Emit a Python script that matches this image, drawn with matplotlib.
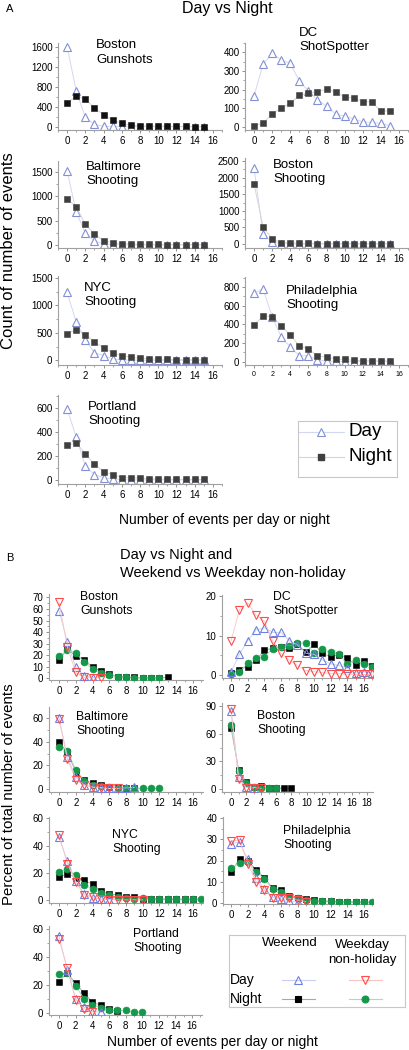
import matplotlib
matplotlib.use("Agg")
import matplotlib.pyplot as plt
from matplotlib.ticker import MultipleLocator

W, H = 409, 1050
plt.rcParams['font.family'] = ['Liberation Sans', 'DejaVu Sans']

# ---------------- Panel A data: counts, Day vs Night ----------------
a_x = [0, 1, 2, 3, 4, 5, 6, 7, 8, 9, 10, 11, 12, 13, 14, 15]
bos_gun_day = [1610, 726, 190, 50, 8, 5, 2, 1, 1, 1, 1, 1, 1, 1, 1, 1]
bos_gun_night = [470, 620, 550, 385, 235, 135, 65, 30, 20, 15, 10, 8, 5, 5, 3, 3]
dc_day = [166, 337, 395, 359, 341, 246, 193, 145, 112, 70, 59, 43, 28, 25, 20, 7]
dc_night = [7, 20, 70, 102, 127, 171, 180, 189, 202, 189, 159, 157, 136, 134, 86, 86]
balt_day = [1520, 680, 240, 80, 20, 5, 3, 2, 1, 1, 1, 1, 1, 1, 1, 1]
balt_night = [945, 780, 430, 225, 88, 47, 30, 20, 15, 12, 10, 8, 8, 5, 5, 5]
bos_sh_day = [2280, 290, 50, 10, 5, 3, 2, 1, 1, 1, 1, 1, 1, 1, 1, 1]
bos_sh_night = [1800, 520, 150, 40, 38, 18, 18, 15, 15, 15, 15, 15, 15, 15, 15, 15]
nyc_day = [1240, 700, 380, 140, 90, 30, 10, 8, 5, 3, 3, 2, 2, 2, 2, 2]
nyc_night = [490, 560, 470, 340, 230, 140, 90, 60, 40, 30, 25, 20, 15, 15, 12, 10]
phil_day = [733, 780, 480, 268, 157, 64, 64, 18, 5, 3, 2, 1, 1, 1, 1, 1]
phil_night = [393, 493, 482, 386, 286, 171, 136, 64, 50, 30, 25, 15, 12, 10, 10, 8]
port_day = [590, 360, 115, 45, 20, 8, 3, 2, 1, 1, 1, 1, 1, 1, 1, 1]
port_night = [290, 310, 220, 130, 70, 45, 20, 20, 15, 10, 8, 6, 5, 5, 5, 5]

# ---------------- Panel B data: percent, weekend/weekday x day/night ----------------
bg_we_day = [58.5, 31, 9.5, 2.3, 0.5]
bg_wd_day = [66, 27, 5, 1, 0.3, 0.3]
bg_we_night = [16, 25, 19.5, 16, 9.5, 6.5, 3.7, 1.5, 1, 0.8, 0.5, 0.5, 0.5, 1]
bg_wd_night = [19, 24.5, 22, 14, 8, 4.5, 2.5, 1.5, 1, 0.5, 0.5, 0.5, 0.5]

dc_we_day = [0.8, 5.2, 8.7, 11.4, 12.0, 10.8, 10.8, 8.7, 7.6, 5.5, 5.2, 3.8, 2.8, 2.4, 1.7, 0.4, 0.8, 0.4]
dc_wd_day = [8.7, 16.5, 18.3, 15.2, 13.7, 8.7, 5.5, 3.8, 2.4, 1.1, 0.8, 0.6, 0.3, 0.3, 0.2, 0.1, 0.1, 0.1]
dc_we_night = [0.4, 1.3, 2.1, 3.8, 6.2, 6.8, 7.2, 6.9, 7.8, 5.7, 7.8, 5.5, 4.6, 5.1, 4.4, 2.4, 3.4, 2.3]
dc_wd_night = [0.3, 0.6, 3.1, 4.2, 4.6, 6.6, 7.2, 7.4, 8.0, 8.2, 5.5, 6.5, 5.7, 5.2, 2.7, 3.8, 2.7, 2.1]

balt_we_day = [60, 27, 10, 3.7, 1.5, 1, 0.5, 0.5, 1, 1.4]
balt_wd_day = [59.5, 25, 8, 3, 1.7, 1, 0.5, 0.5]
balt_we_night = [39.5, 31, 14.4, 8, 5, 3, 2, 1.5, 1, 0.8]
balt_wd_night = [35.5, 32, 16.3, 7, 3.7, 2.5, 1.5, 1, 1, 0.8, 0.5, 0.5, 0.5]

bsh_we_day = [84.6, 13.6, 2, 1]
bsh_wd_day = [86, 10.8, 1.8, 1.8, 1]
bsh_we_night = [66, 21, 7.5, 2.2, 3.6, 1, 1, 1, 1]
bsh_wd_night = [69, 20, 6.5, 2, 1.5, 1, 1]

nyc_we_day = [46.3, 28.5, 14, 4.9, 2, 0.7, 0.5]
nyc_wd_day = [47.5, 26.8, 13.4, 4, 2.4, 0.7, 0.5, 0.3, 0.3, 0.3, 0.3]
nyc_we_night = [17, 19.5, 16.6, 14.6, 11.7, 6.8, 4.4, 4.1, 2.4, 2.4, 1.2, 1, 1, 0.8, 0.8, 0.8, 0.8]
nyc_wd_night = [20.7, 23, 18.3, 11.5, 8, 5.6, 3.7, 2.4, 2, 1.2, 1.7, 1, 1, 0.8, 0.8, 0.8, 0.8, 0.8]

phil_we_day = [28, 28.8, 20.5, 11.7, 6.4, 2.7, 1.6, 1, 0.5]
phil_wd_day = [29.3, 29.6, 18.4, 9.9, 5.9, 2.4, 2.4, 2.1, 1.3, 0.5]
phil_we_night = [14.4, 20.8, 19.7, 15.7, 11.7, 6.9, 5.9, 3.2, 2.4, 1.6, 1.2, 0.8, 0.8, 0.5, 0.4, 0.3, 0.3]
phil_wd_night = [16.5, 18.7, 19.5, 14.4, 11.2, 6.4, 5.1, 2.9, 2.1, 1.3, 1.0, 0.7, 0.6, 0.5, 0.4, 0.3, 0.3, 0.3]

port_we_day = [55, 30.7, 10.3, 4.3, 1, 0.7]
port_wd_day = [52.8, 31.9, 9.6, 3.1, 0.7]
port_we_night = [22.3, 28.8, 21.1, 14.4, 7.9, 5.5, 2.6, 1.5]
port_wd_night = [27.8, 28.3, 19.4, 10.3, 5.5, 3.8, 1.9, 1.9, 1.9, 0.7, 0.7]

# colours
A_DAY, A_DAY_LINE = '#8390d4', '#d3d8f2'
A_NIGHT, A_NIGHT_LINE = '#3f3f3f', '#d6d6d6'
B_WE_DAY, B_WE_DAY_LINE = '#6f80e0', '#c9cff3'
B_WD_DAY, B_WD_DAY_LINE = '#ff4a4a', '#f9c4c4'
B_WE_NIGHT, B_WE_NIGHT_LINE = '#000000', '#a8a8a8'
B_WD_NIGHT, B_WD_NIGHT_LINE = '#14984a', '#a9dcb9'

fig = plt.figure(figsize=(W / 100, H / 100), dpi=100)


def px_axes(l, t, r, b):
    return fig.add_axes([l / W, 1 - b / H, (r - l) / W, (b - t) / H])


def px_text(x, y, s, **kw):
    fig.text(x / W, 1 - y / H, s, **kw)


def style(ax, xlim, ylim, xstep, ystep, xfs=7, yfs=7):
    ax.set_xlim(*xlim)
    ax.set_ylim(*ylim)
    ax.xaxis.set_major_locator(MultipleLocator(xstep))
    ax.xaxis.set_minor_locator(MultipleLocator(xstep / 2))
    ax.yaxis.set_major_locator(MultipleLocator(ystep))
    ax.yaxis.set_minor_locator(MultipleLocator(ystep / 2))
    for s in ['top', 'right']:
        ax.spines[s].set_visible(False)
    for s in ['left', 'bottom']:
        ax.spines[s].set_color('#a0a0a0')
        ax.spines[s].set_linewidth(0.8)
    ax.tick_params(which='major', length=2.5, width=0.6, color='#808080', pad=1.5)
    ax.tick_params(axis='x', labelsize=xfs)
    ax.tick_params(axis='y', labelsize=yfs)
    ax.tick_params(which='minor', length=1.3, width=0.5, color='#808080')
    ax.patch.set_alpha(0)


# ---------------- Panel A ----------------
px_text(10, 9, 'A', fontsize=8, ha='center', va='center')
px_text(227, 8, 'Day vs Night', fontsize=11.5, ha='center', va='center')

panels_a = [
    # rect, ylim, ystep, label pos, label, day, night, xtick fs, night colour
    ((58, 43, 222, 130), (-66, 1687), 400, (96, 52.5), 'Boston\nGunshots', bos_gun_day, bos_gun_night, 7, '#111111'),
    ((245, 43, 408, 130), (-16, 450), 100, (299, 40), 'DC\nShotSpotter', dc_day, dc_night, 7, A_NIGHT),
    ((58, 161, 222, 248), (-62, 1726), 500, (86, 173.7), 'Baltimore\nShooting', balt_day, balt_night, 7, A_NIGHT),
    ((245, 158, 408, 248), (-120, 2590), 500, (273, 171.7), 'Boston\nShooting', bos_sh_day, bos_sh_night, 7, A_NIGHT),
    ((58, 276, 222, 365), (-82, 1536), 500, (84, 295), 'NYC\nShooting', nyc_day, nyc_night, 7, A_NIGHT),
    ((245, 277, 408, 365), (-35, 907), 200, (286, 298.3), 'Philadelphia\nShooting', phil_day, phil_night, 5, A_NIGHT),
    ((58, 395, 222, 484), (-33, 708), 200, (88, 413.8), 'Portland\nShooting', port_day, port_night, 7, A_NIGHT),
]

for rect, ylim, ystep, lpos, label, day, night, xfs, ncol in panels_a:
    ax = px_axes(*rect)
    ax.plot(a_x, day, '-', color=A_DAY_LINE, lw=0.7, marker='^', ms=5.4,
            mfc='white', mec=A_DAY, mew=0.8, zorder=2)
    ax.plot(a_x, night, '-', color=A_NIGHT_LINE, lw=0.7, marker='s', ms=3.9,
            mfc=ncol, mec=ncol, mew=0.4, zorder=3)
    style(ax, (-1, 17), ylim, 2, ystep, xfs=xfs)
    px_text(lpos[0], lpos[1], label, fontsize=9.5, ha='left', va='center', linespacing=1.25)

# legend A
lax = px_axes(298, 421, 397, 477)
lax.set_xlim(298, 397)
lax.set_ylim(477, 421)
lax.set_xticks([])
lax.set_yticks([])
for s in lax.spines.values():
    s.set_color('#c8c8c8')
    s.set_linewidth(0.8)
lax.plot([299, 344], [432, 432], color=A_DAY_LINE, lw=0.8)
lax.plot([321], [432], marker='^', ms=5.4, mfc='white', mec=A_DAY, mew=0.8)
lax.plot([299, 344], [456.5, 456.5], color=A_NIGHT_LINE, lw=0.8)
lax.plot([321], [456.5], marker='s', ms=3.9, mfc=A_NIGHT, mec=A_NIGHT)
lax.text(348, 432, 'Day', fontsize=13.5, va='center', ha='left')
lax.text(348, 456.5, 'Night', fontsize=13.5, va='center', ha='left')

px_text(224, 520, 'Number of events per day or night', fontsize=10, ha='center', va='center')
px_text(9, 251, 'Count of number of events', fontsize=12, ha='center', va='center', rotation=90)

# ---------------- Panel B ----------------
px_text(10, 558, 'B', fontsize=8, ha='center', va='center')
px_text(120, 564, 'Day vs Night and\nWeekend vs Weekday non-holiday', fontsize=10.5,
        ha='left', va='center', linespacing=1.3)

panels_b = [
    ((49, 594, 203, 680), (-1.2, 17.2), 2, (-1.5, 73), 10, (80, 604), 'Boston\nGunshots',
     bg_we_day, bg_wd_day, bg_we_night, bg_wd_night),
    ((222, 595, 373, 678), (-1.1, 17.1), 2, (-0.8, 20.3), 10, (273, 604), 'DC\nShotSpotter',
     dc_we_day, dc_wd_day, dc_we_night, dc_wd_night),
    ((49, 707, 203, 792), (-1.2, 17.2), 2, (-2.5, 69.3), 20, (76, 724), 'Baltimore\nShooting',
     balt_we_day, balt_wd_day, balt_we_night, balt_wd_night),
    ((222, 703, 373, 792), (-1.2, 18.8), 2, (-3, 93), 30, (257, 723), 'Boston\nShooting',
     bsh_we_day, bsh_wd_day, bsh_we_night, bsh_wd_night),
    ((49, 817, 203, 903), (-1.2, 17.2), 2, (-2, 61), 20, (112, 842), 'NYC\nShooting',
     nyc_we_day, nyc_wd_day, nyc_we_night, nyc_wd_night),
    ((223, 817, 373, 904), (-1.0, 17.1), 2, (-0.6, 40.6), 10, (283, 838), 'Philadelphia\nShooting',
     phil_we_day, phil_wd_day, phil_we_night, phil_wd_night),
    ((49, 926, 202, 1015), (-1.2, 17.2), 2, (-1.4, 62), 20, (133, 941), 'Portland\nShooting',
     port_we_day, port_wd_day, port_we_night, port_wd_night),
]

for rect, xlim, xstep, ylim, ystep, lpos, label, we_day, wd_day, we_night, wd_night in panels_b:
    ax = px_axes(*rect)
    ax.plot(range(len(we_night)), we_night, '-', color=B_WE_NIGHT_LINE, lw=0.6, marker='s', ms=4.3,
            mfc=B_WE_NIGHT, mec=B_WE_NIGHT, mew=0.4, zorder=2)
    ax.plot(range(len(wd_night)), wd_night, '-', color=B_WD_NIGHT_LINE, lw=0.6, marker='o', ms=5,
            mfc=B_WD_NIGHT, mec=B_WD_NIGHT, mew=0.4, zorder=3)
    ax.plot(range(len(we_day)), we_day, '-', color=B_WE_DAY_LINE, lw=0.6, marker='^', ms=6,
            mfc='none', mec=B_WE_DAY, mew=0.8, zorder=4)
    ax.plot(range(len(wd_day)), wd_day, '-', color=B_WD_DAY_LINE, lw=0.6, marker='v', ms=6,
            mfc='none', mec=B_WD_DAY, mew=0.8, zorder=5)
    style(ax, xlim, ylim, xstep, ystep)
    px_text(lpos[0], lpos[1], label, fontsize=8.8, ha='left', va='center', linespacing=1.25)

# legend B
lbx = px_axes(229, 935, 405, 1007)
lbx.set_xlim(229, 405)
lbx.set_ylim(1007, 935)
lbx.set_xticks([])
lbx.set_yticks([])
for s in lbx.spines.values():
    s.set_color('#c8c8c8')
    s.set_linewidth(0.8)
lbx.text(290, 943.5, 'Weekend', fontsize=9.5, ha='center', va='center')
lbx.text(362, 952.5, 'Weekday\nnon-holiday', fontsize=9.5, ha='center', va='center', linespacing=1.25)
lbx.text(230, 980, 'Day', fontsize=10, ha='left', va='center')
lbx.text(230, 998.5, 'Night', fontsize=10, ha='left', va='center')
keys_b = [
    (298, 980, '^', B_WE_DAY, B_WE_DAY_LINE, 'none', 6),
    (365, 980, 'v', B_WD_DAY, B_WD_DAY_LINE, 'none', 6),
    (298, 998.5, 's', B_WE_NIGHT, B_WE_NIGHT_LINE, B_WE_NIGHT, 4.3),
    (365, 998.5, 'o', B_WD_NIGHT, B_WD_NIGHT_LINE, B_WD_NIGHT, 5),
]
for kx, ky, mk, mc, lc, fc, ms in keys_b:
    lbx.plot([kx - 16, kx + 17], [ky, ky], color=lc, lw=0.8)
    lbx.plot([kx], [ky], marker=mk, ms=ms, mfc=fc, mec=mc, mew=0.8)

px_text(212, 1042, 'Number of events per day or night', fontsize=10, ha='center', va='center')
px_text(9, 794, 'Percent of total number of events', fontsize=10.8, ha='center', va='center', rotation=90)

fig.savefig('out.png', dpi=100)
